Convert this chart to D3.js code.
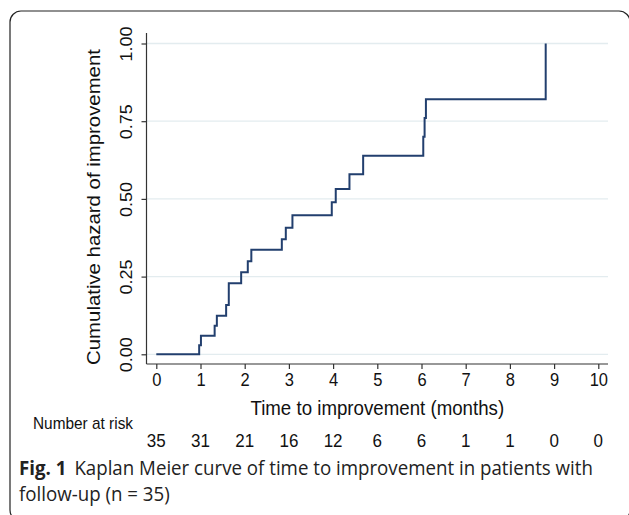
<!DOCTYPE html>
<html><head><meta charset="utf-8">
<script src="https://cdn.jsdelivr.net/npm/d3@7"></script>
<style>
html,body{margin:0;padding:0;background:#fff;}
svg{display:block;}
</style></head>
<body>
<svg id="c" width="629" height="515"></svg>
<script>
// Data
const stepTimes = [0, 0.97, 1.01, 1.32, 1.37, 1.58, 1.64, 1.92, 2.07, 2.15, 2.84, 2.93, 3.08, 3.97, 4.06, 4.37, 4.68, 6.04, 6.07, 6.10, 8.81];
const cumHazard = [0, 0.029, 0.060, 0.092, 0.124, 0.159, 0.229, 0.264, 0.299, 0.336, 0.370, 0.407, 0.447, 0.489, 0.532, 0.579, 0.639, 0.700, 0.760, 0.821, 1.0];
const xTicks = [0,1,2,3,4,5,6,7,8,9,10];
const yTicks = [0, 0.25, 0.5, 0.75, 1.0];
const atRisk = [35, 31, 21, 16, 12, 6, 6, 1, 1, 0, 0];

const svg = d3.select("#c");
const F = "'Liberation Sans', Arial, sans-serif";
const S = 1.09; // vertical stretch of the original figure

// frame
svg.append("rect").attr("x",10).attr("y",11).attr("width",620).attr("height",510)
  .attr("rx",11).attr("fill","none").attr("stroke","#222").attr("stroke-width",1.2);

const x = d3.scaleLinear().domain([0,10]).range([156.3,598.3]);
const y = d3.scaleLinear().domain([0,1]).range([354.3,43.5]);
const axL = 146.5, axB = 364, axR = 608, axT = 33;

// grid
svg.append("g").selectAll("line").data(yTicks).join("line")
  .attr("x1",axL).attr("x2",axR).attr("y1",d=>y(d)).attr("y2",d=>y(d))
  .attr("stroke","#e3ecef").attr("stroke-width",1.3);

// y axis
const yAxis = d3.axisLeft(y).tickValues(yTicks).tickFormat(d3.format(".2f")).tickSize(5).tickPadding(8);
const gy = svg.append("g").attr("transform",`translate(${axL},0)`).call(yAxis);
gy.select(".domain").remove();
gy.append("line").attr("x1",0).attr("x2",0).attr("y1",axT).attr("y2",axB).attr("stroke","#333").attr("stroke-width",1.2);
gy.selectAll(".tick line").attr("stroke","#333").attr("stroke-width",1.2);
gy.selectAll(".tick text").attr("font-family",F).attr("font-size",16.5).attr("fill","#111")
  .attr("text-anchor","middle").attr("x",0).attr("y",0).attr("dy","0.35em")
  .attr("transform",`translate(-20,0) scale(1,${S}) rotate(-90)`);

// x axis
const xAxis = d3.axisBottom(x).tickValues(xTicks).tickSize(5).tickPadding(4);
const gx = svg.append("g").attr("transform",`translate(0,${axB})`).call(xAxis);
gx.select(".domain").remove();
gx.append("line").attr("x1",axL).attr("x2",axR).attr("y1",0).attr("y2",0).attr("stroke","#333").attr("stroke-width",1.2);
gx.selectAll(".tick line").attr("stroke","#333").attr("stroke-width",1.2);
gx.selectAll(".tick text").attr("font-family",F).attr("font-size",16.5).attr("fill","#111")
  .attr("y",0).attr("dy","0.71em").attr("transform",`translate(0,9) scale(1,${S})`);

// titles
svg.append("text").attr("transform",`translate(100,207) scale(1,${S}) rotate(-90)`)
  .attr("text-anchor","middle").attr("font-family",F).attr("font-size",18.7).attr("fill","#111")
  .text("Cumulative hazard of improvement");
svg.append("text").attr("transform",`translate(${(x(0)+x(10))/2},415) scale(1,${S})`)
  .attr("text-anchor","middle").attr("font-family",F).attr("font-size",18.7).attr("fill","#111")
  .text("Time to improvement (months)");

// risk table
svg.append("text").attr("transform",`translate(33,429) scale(1,${S})`).attr("font-family",F).attr("font-size",15.4).attr("fill","#111")
  .text("Number at risk");
svg.append("g").selectAll("text").data(atRisk).join("text")
  .attr("transform",(d,i)=>`translate(${x(xTicks[i])},447) scale(1,${S})`).attr("text-anchor","middle")
  .attr("font-family",F).attr("font-size",17).attr("fill","#111").text(d=>d);

// curve
const pts = stepTimes.map((t,i)=>[t,cumHazard[i]]);
const line = d3.line().x(d=>x(d[0])).y(d=>y(d[1])).curve(d3.curveStepAfter);
svg.append("path").datum(pts).attr("d",line).attr("fill","none")
  .attr("stroke","#223f6e").attr("stroke-width",2);

// caption
const CF = "'Open Sans', 'Noto Sans', sans-serif";
const cap = svg.append("text").attr("transform",`translate(19,475) scale(1,1.08)`).attr("font-family",CF).attr("font-size",18.7).attr("fill","#222");
cap.append("tspan").attr("font-weight","bold").text("Fig. 1");
cap.append("tspan").attr("dx",8).text("Kaplan Meier curve of time to improvement in patients with");
svg.append("text").attr("transform",`translate(19,501) scale(1,1.08)`).attr("font-family",CF).attr("font-size",18.7).attr("fill","#222")
  .text("follow-up (n = 35)");
</script>
</body></html>
